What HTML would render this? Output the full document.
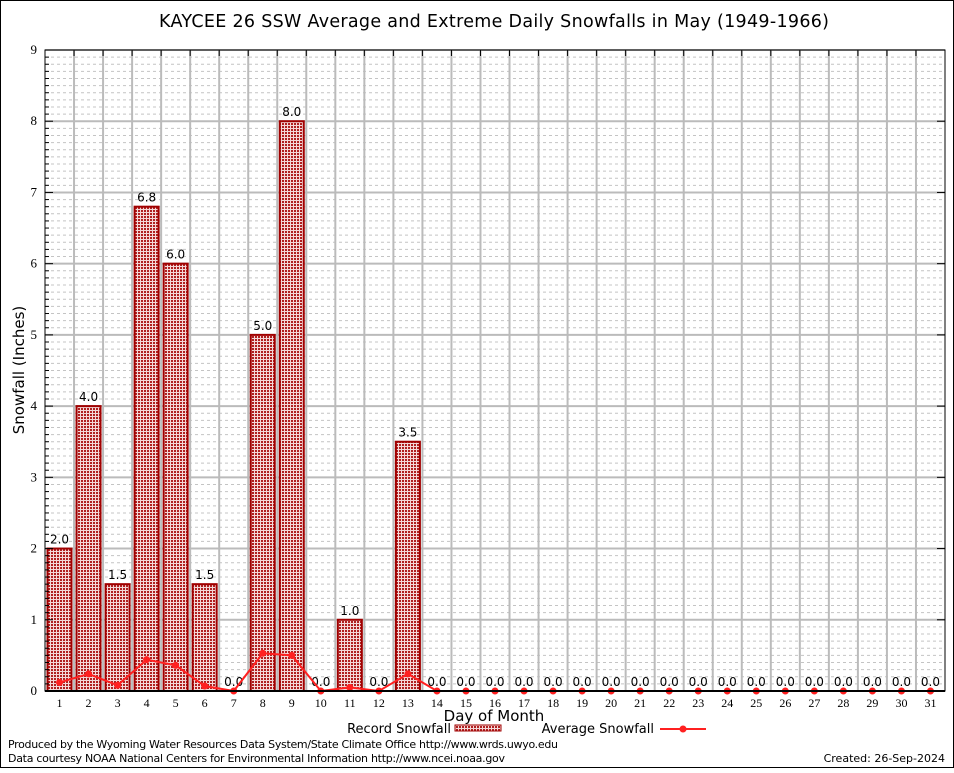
<!DOCTYPE html>
<html><head><meta charset="utf-8"><style>
body{margin:0;background:#fff;}
svg text{font-family:"DejaVu Sans","Liberation Sans",sans-serif;}
svg text.serif{font-family:"Liberation Serif","DejaVu Serif",serif;}
</style></head><body>
<svg id="c" width="954" height="768" xmlns="http://www.w3.org/2000/svg">
<defs>
<pattern id="chk" width="3" height="3" patternUnits="userSpaceOnUse">
<rect width="3" height="3" fill="#f4d8d8"/>
<rect width="2" height="2" fill="#b02020"/>
</pattern>
</defs>
<rect x="0.5" y="0.5" width="953" height="767" fill="#fff" stroke="#000"/>
<text x="494" y="27" font-size="17.5" text-anchor="middle" textLength="670">KAYCEE 26 SSW Average and Extreme Daily Snowfalls in May (1949-1966)</text>
<g id="grid"></g>
<g id="bars"></g>
<g id="line"></g>
<g id="axes"></g>
<text x="24" y="370" font-size="15" text-anchor="middle" transform="rotate(-90 24 370)">Snowfall (Inches)</text>
<text x="494" y="721" font-size="15" text-anchor="middle">Day of Month</text>
<g>
<text x="451" y="733" font-size="13" text-anchor="end">Record Snowfall</text>
<rect x="455" y="725" width="46" height="6" fill="url(#chk)" stroke="#a00000"/>
<text x="654" y="733" font-size="13" text-anchor="end">Average Snowfall</text>
<line x1="660" y1="729" x2="706" y2="729" stroke="#ff2020" stroke-width="2"/>
<circle cx="683" cy="729" r="3.5" fill="#ff2020"/>
</g>
<text x="8" y="748" font-size="11" textLength="550">Produced by the Wyoming Water Resources Data System/State Climate Office http://www.wrds.uwyo.edu</text>
<text x="8" y="762" font-size="11" textLength="497">Data courtesy NOAA National Centers for Environmental Information http://www.ncei.noaa.gov</text>
<text x="945" y="762" font-size="11" text-anchor="end">Created:  26-Sep-2024</text>
</svg>
<script>
const days=[1,2,3,4,5,6,7,8,9,10,11,12,13,14,15,16,17,18,19,20,21,22,23,24,25,26,27,28,29,30,31];
const recordValues=[2.0,4.0,1.5,6.8,6.0,1.5,0,5.0,8.0,0,1.0,0,3.5,0,0,0,0,0,0,0,0,0,0,0,0,0,0,0,0,0,0];
const averageValues=[0.12,0.24,0.08,0.44,0.36,0.07,0,0.53,0.5,0,0.05,0,0.24,0,0,0,0,0,0,0,0,0,0,0,0,0,0,0,0,0,0];
const yTicks=[0,1,2,3,4,5,6,7,8,9];
const L=45,R=945,T=50,B=691,YMAX=9;
const NS='http://www.w3.org/2000/svg';
const bw=(R-L)/days.length;
function xc(i){return L+bw*(i+0.5);}
function y(v){return B-(v/YMAX)*(B-T);}
function mk(tag,attrs,parent,txt){const e=document.createElementNS(NS,tag);for(const k in attrs)e.setAttribute(k,attrs[k]);if(txt!==undefined)e.textContent=txt;document.getElementById(parent).appendChild(e);return e;}
for(let m=1;m<YMAX*10;m++){if(m%10===0)continue;const yy=y(m/10);
const e=mk('line',{x1:L,x2:R,y1:yy,y2:yy,stroke:'#c4c4c4','stroke-dasharray':'3,3','stroke-width':1},'grid');

}
yTicks.forEach(t=>{const yy=y(t);
const e=mk('line',{x1:L,x2:R,y1:yy,y2:yy,stroke:'#bbb','stroke-width':2},'grid');


const tl=mk('text',{x:L-8,y:yy+4,'font-size':13,'text-anchor':'end','class':'serif'},'axes',String(t));


const tk=mk('line',{x1:L,x2:L+8,y1:yy,y2:yy,stroke:'#000','stroke-width':1},'axes');


const tk2=mk('line',{x1:R-8,x2:R,y1:yy,y2:yy,stroke:'#000','stroke-width':1},'axes');

});
for(let m=1;m<YMAX*10;m++){if(m%10===0)continue;const yy=y(m/10);
const e=mk('line',{x1:L,x2:L+4,y1:yy,y2:yy,stroke:'#000'},'axes');

}
for(let i=1;i<days.length;i++){const xx=L+bw*i;
const e=mk('line',{x1:xx,x2:xx,y1:T,y2:B,stroke:'#bbb','stroke-width':2},'grid');


const t=mk('line',{x1:xx,x2:xx,y1:T,y2:T+6,stroke:'#000'},'axes');

}
days.forEach((d,i)=>{const v=recordValues[i];
if(v>0){const r=mk('rect',{x:xc(i)-12,y:y(v),width:24,height:B-y(v),fill:'url(#chk)',stroke:'#a00000','stroke-width':2},'bars');

}
const t=mk('text',{x:xc(i),y:y(v)-5,'font-size':12,'text-anchor':'middle'},'bars',v.toFixed(1));


const xl=mk('text',{x:xc(i),y:B+16,'font-size':12,'text-anchor':'middle','class':'serif'},'axes',String(d));

});
const pts=days.map((d,i)=>xc(i)+','+y(averageValues[i])).join(' ');
const pl=mk('polyline',{points:pts,fill:'none',stroke:'#ff2020','stroke-width':2},'line');


days.forEach((d,i)=>{const c=mk('circle',{cx:xc(i),cy:y(averageValues[i]),r:3.5,fill:'#ff2020'},'line');

});
const fr=mk('rect',{x:L,y:T,width:R-L,height:B-T,fill:'none',stroke:'#000','stroke-width':1},'axes');


const xa=mk('line',{x1:L,x2:R,y1:B,y2:B,stroke:'#000','stroke-width':2},'axes');


</script>
</body></html>
